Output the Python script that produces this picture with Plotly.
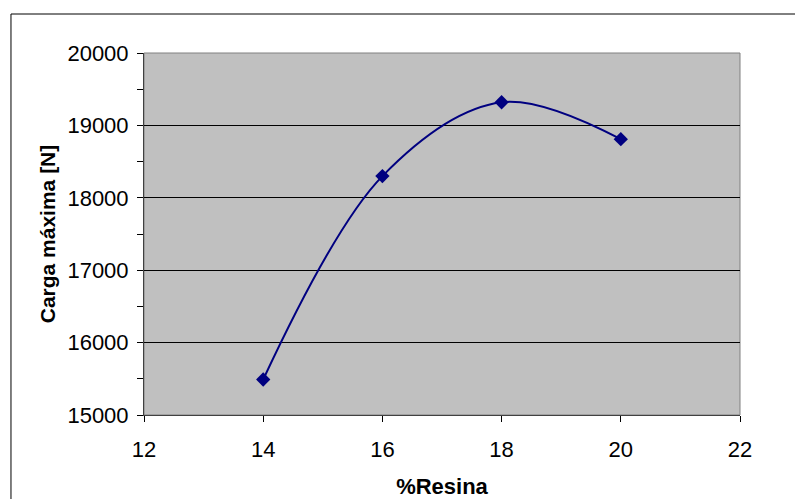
import plotly.graph_objects as go

resina = [14, 16, 18, 20]
carga = [15490, 18300, 19320, 18810]

x_ticks = [12, 14, 16, 18, 20, 22]
y_ticks = [15000, 16000, 17000, 18000, 19000, 20000]

fig = go.Figure()
fig.add_trace(go.Scatter(
    x=resina, y=carga, mode="lines+markers",
    line=dict(color="#000080", width=2, shape="spline", smoothing=1),
    marker=dict(symbol="diamond", size=11, color="#000080"),
    showlegend=False,
))

font_family = "Liberation Sans, Arial, sans-serif"
fig.update_layout(
    width=795, height=499,
    margin=dict(l=144, r=55, t=53, b=84),
    paper_bgcolor="white", plot_bgcolor="#C0C0C0",
    font=dict(family=font_family, color="black", size=22),
    xaxis=dict(
        range=[12, 22], tickvals=x_ticks, ticks="outside", ticklen=6,
        tickcolor="black", showgrid=False, zeroline=False, automargin=False,
        showline=True, linecolor="#404040", linewidth=1, mirror=False,
        ticklabelstandoff=9, tickformat="d",
        title=dict(text="%Resina", font=dict(size=22, family=font_family, weight="bold"), standoff=17),
    ),
    yaxis=dict(
        range=[15000, 20000], tickvals=y_ticks, ticks="outside", ticklen=6,
        tickcolor="black", showgrid=True, gridcolor="black", gridwidth=1,
        zeroline=False, showline=True, linecolor="#404040", linewidth=1, automargin=False,
        ticklabelstandoff=4, tickformat="d",
        minor=dict(dtick=500, ticks="outside", ticklen=6, tickcolor="black", showgrid=False),
        title=dict(text="Carga máxima [N]", font=dict(size=21, family=font_family, weight="bold"), standoff=6),
    ),
)

# plot area border in grey
fig.add_shape(type="rect", xref="paper", yref="paper", x0=0, y0=0, x1=1, y1=1,
              line=dict(color="#808080", width=1), layer="below")
# outer chart border
fig.add_shape(type="rect", xref="paper", yref="paper",
              x0=-0.2232, y0=-0.3, x1=1.2, y1=1.1077,
              line=dict(color="black", width=1))

fig.write_html("out.html")
